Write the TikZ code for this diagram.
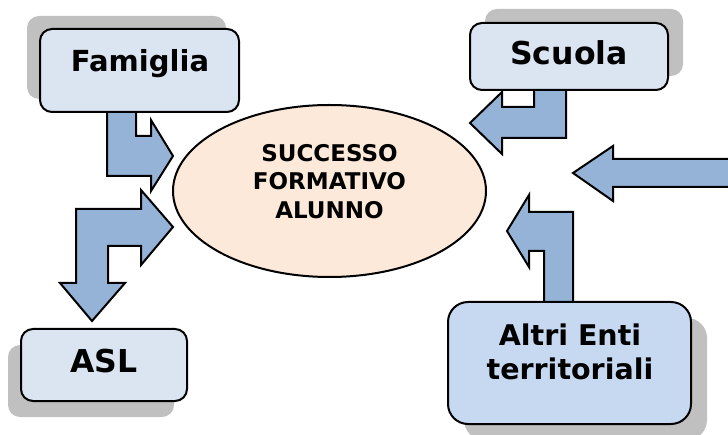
\documentclass[tikz,border=0pt]{standalone}
\usepackage{fontspec}
\setmainfont{DejaVu Sans}
\usetikzlibrary{shapes.geometric}
\definecolor{boxfill}{HTML}{DBE5F1}
\definecolor{boxfillB}{HTML}{C6D9F1}
\definecolor{arrowfill}{HTML}{95B3D7}
\definecolor{ellfill}{HTML}{FDE9D9}
\definecolor{shadowgray}{HTML}{C0C0C0}
\tikzset{
  boxnode/.style={draw=black, line width=2pt, fill=boxfill, rounded corners=12pt,
    rectangle, inner sep=0pt, outer sep=0pt},
  blockarrow/.style={draw=black, line width=2pt, fill=arrowfill, line join=miter},
  lbl/.style={anchor=base, inner sep=0pt, align=center},
}
\begin{document}
\begin{tikzpicture}[x=1pt,y=-1pt]
\clip (0,0) rectangle (728,435);
\fill[white] (0,0) rectangle (728,435);
% shadows
\fill[shadowgray, rounded corners=12pt] (27,16) rectangle (226,99);
\fill[shadowgray, rounded corners=12pt] (485,9) rectangle (683,76);
\fill[shadowgray, rounded corners=12pt] (8,345) rectangle (174,417);
\fill[shadowgray, rounded corners=20pt] (464,318) rectangle (707,440);
% block arrows
\draw[blockarrow] (107,110) -- (136,110) -- (136,136) -- (151,136) -- (151,120) -- (173,156)
  -- (151,191) -- (151,176) -- (107,176) -- cycle;
\draw[blockarrow] (141,209) -- (141,190) -- (173,227) -- (141,265) -- (141,246) -- (108,246)
  -- (108,283) -- (125,283) -- (92,321) -- (60,283) -- (76,283) -- (76,209) -- cycle;
\draw[blockarrow] (566,88) -- (566,138) -- (502,138) -- (502,154) -- (470,123) -- (502,92)
  -- (502,107) -- (534,107) -- (534,88) -- cycle;
\draw[blockarrow] (745,159) -- (613,159) -- (613,146) -- (573,173) -- (613,201) -- (613,187)
  -- (745,187) -- cycle;
\draw[blockarrow] (573,304) -- (573,212) -- (529,212) -- (529,195) -- (507,231) -- (529,267)
  -- (529,251) -- (544,251) -- (544,304) -- cycle;
% boxes
\node[boxnode, minimum width=199pt, minimum height=83pt] (fam) at (139.5,70.5) {};
\node[boxnode, minimum width=198pt, minimum height=67pt] (scu) at (569,56.5) {};
\node[boxnode, minimum width=166pt, minimum height=72pt] (asl) at (104,365) {};
\node[boxnode, fill=boxfillB, rounded corners=20pt, minimum width=243pt, minimum height=122pt] (altri) at (569.5,363) {};
% ellipse
\node[ellipse, draw=black, line width=2pt, fill=ellfill, minimum width=313pt, minimum height=172pt, inner sep=0pt] (succ) at (329.5,191) {};
% labels
\node[lbl, font=\fontsize{29}{34}\selectfont\bfseries] (famt) at (140,71.5) {Famiglia};
\node[lbl, font=\fontsize{31.5}{38}\selectfont\bfseries] (scut) at (569,65) {Scuola};
\node[lbl, font=\fontsize{31.5}{38}\selectfont\bfseries] (aslt) at (104,372.5) {ASL};
\node[lbl, font=\fontsize{28.5}{34}\selectfont\bfseries] (altrit) at (570,379) {Altri Enti\\territoriali};
\node[lbl, font=\fontsize{23}{28.3}\selectfont\bfseries] (succt) at (329.5,218.3) {SUCCESSO\\FORMATIVO\\ALUNNO};
\end{tikzpicture}
\end{document}
